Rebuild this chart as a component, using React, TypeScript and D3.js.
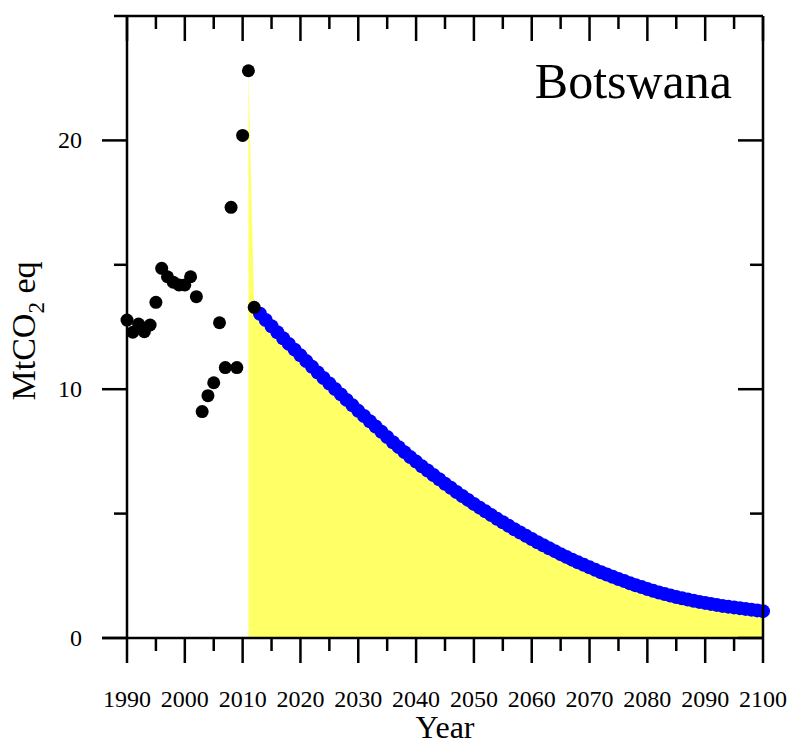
import { useEffect, useRef } from 'react';
import * as d3 from 'd3';

// historical emissions, 1990-2012
const histYears = d3.range(1990, 2013);
const histValues = [
  12.78, 12.29, 12.62, 12.31, 12.58, 13.49, 14.86, 14.52, 14.3, 14.19, 14.19,
  14.52, 13.72, 9.1, 9.74, 10.26, 12.67, 10.87, 17.31, 10.87, 20.2, 22.8, 13.29,
];

// projected pathway, 2013-2100
const projYears = d3.range(2013, 2101);
const projValues = [
  13.03, 12.78, 12.53, 12.29, 12.05, 11.82, 11.59, 11.36, 11.13, 10.9, 10.67,
  10.45, 10.23, 10.01, 9.79, 9.57, 9.35, 9.13, 8.92, 8.71, 8.5, 8.29, 8.08,
  7.87, 7.67, 7.47, 7.27, 7.09, 6.9, 6.73, 6.55, 6.38, 6.2, 6.04, 5.87, 5.71,
  5.55, 5.39, 5.24, 5.09, 4.94, 4.79, 4.65, 4.51, 4.37, 4.24, 4.11, 3.98, 3.85,
  3.73, 3.61, 3.49, 3.37, 3.26, 3.15, 3.04, 2.94, 2.84, 2.74, 2.64, 2.55, 2.46,
  2.37, 2.29, 2.2, 2.12, 2.05, 1.97, 1.9, 1.83, 1.77, 1.71, 1.65, 1.6, 1.55,
  1.5, 1.45, 1.41, 1.37, 1.33, 1.29, 1.26, 1.23, 1.2, 1.17, 1.14, 1.11, 1.08,
];

const xMajor = [1990, 2000, 2010, 2020, 2030, 2040, 2050, 2060, 2070, 2080, 2090, 2100];
const xMinor = [1995, 2005, 2015, 2025, 2035, 2045, 2055, 2065, 2075, 2085, 2095];
const yMajor = [0, 10, 20];
const yMinor = [5, 15];

const country = 'Botswana';

const App = () => {
  const svgRef = useRef(null);

  useEffect(() => {
    const svg = d3.select(svgRef.current);
    svg.selectAll('*').remove();

    const width = 788;
    const height = 745;
    const margin = { top: 16, right: 25, bottom: 107, left: 127 };
    const font = '"Liberation Serif", "Times New Roman", serif';

    const x = d3
      .scaleLinear()
      .domain([1990, 2100])
      .range([margin.left, width - margin.right]);
    const y = d3
      .scaleLinear()
      .domain([0, 25])
      .range([height - margin.bottom, margin.top]);

    const x0 = x(1990);
    const x1 = x(2100);
    const y0 = y(0);
    const y1 = y(25);

    // area under the pathway, starting from the last inventory year
    const areaData: [number, number][] = [
      [2011, histValues[histYears.indexOf(2011)]],
      [2012, histValues[histYears.indexOf(2012)]],
      ...projYears.map((yr, i) => [yr, projValues[i]] as [number, number]),
    ];
    const area = d3
      .area<[number, number]>()
      .x((d) => x(d[0]))
      .y0(y(0))
      .y1((d) => y(d[1]));
    svg.append('path').attr('d', area(areaData)!).attr('fill', '#ffff66');

    // projected points
    svg
      .selectAll('circle.proj')
      .data(projYears)
      .enter()
      .append('circle')
      .attr('class', 'proj')
      .attr('cx', (d) => x(d))
      .attr('cy', (_d, i) => y(projValues[i]))
      .attr('r', 7)
      .attr('fill', '#0000ff');

    // historical points
    svg
      .selectAll('circle.hist')
      .data(histYears)
      .enter()
      .append('circle')
      .attr('class', 'hist')
      .attr('cx', (d) => x(d))
      .attr('cy', (_d, i) => y(histValues[i]))
      .attr('r', 6.5)
      .attr('fill', '#000');

    // frame and ticks
    const g = svg.append('g').attr('stroke', '#000').attr('stroke-width', 2.5);
    g.append('line').attr('x1', 102).attr('x2', x1).attr('y1', y0).attr('y2', y0);
    g.append('line').attr('x1', 114).attr('x2', x1).attr('y1', y1).attr('y2', y1);
    g.append('line').attr('x1', x0).attr('x2', x0).attr('y1', y1).attr('y2', y0);
    g.append('line').attr('x1', x1).attr('x2', x1).attr('y1', y1).attr('y2', y0);

    const major = 25;
    const minor = 13;
    const addX = (vals: number[], len: number) => {
      vals.forEach((v) => {
        g.append('line').attr('x1', x(v)).attr('x2', x(v)).attr('y1', y0).attr('y2', y0 + len);
        g.append('line').attr('x1', x(v)).attr('x2', x(v)).attr('y1', y1).attr('y2', y1 + len);
      });
    };
    const addY = (vals: number[], len: number) => {
      vals.forEach((v) => {
        g.append('line').attr('x1', x0 - len).attr('x2', x0).attr('y1', y(v)).attr('y2', y(v));
        g.append('line').attr('x1', x1 - len).attr('x2', x1).attr('y1', y(v)).attr('y2', y(v));
      });
    };
    addX(xMajor, major);
    addX(xMinor, minor);
    addY(yMajor, major);
    addY(yMinor, minor);

    // tick labels
    svg
      .selectAll('text.xlab')
      .data(xMajor)
      .enter()
      .append('text')
      .attr('x', (d) => x(d))
      .attr('y', 707)
      .attr('text-anchor', 'middle')
      .style('font-family', font)
      .style('font-size', '24px')
      .text((d) => d);

    svg
      .selectAll('text.ylab')
      .data(yMajor)
      .enter()
      .append('text')
      .attr('x', 82)
      .attr('y', (d) => y(d) + 8)
      .attr('text-anchor', 'end')
      .style('font-family', font)
      .style('font-size', '24px')
      .text((d) => d);

    // axis titles
    svg
      .append('text')
      .attr('x', (x0 + x1) / 2)
      .attr('y', 738)
      .attr('text-anchor', 'middle')
      .style('font-family', font)
      .style('font-size', '32px')
      .text('Year');

    const yt = svg
      .append('text')
      .attr('transform', `translate(35,331) rotate(-90)`)
      .attr('text-anchor', 'middle')
      .style('font-family', font)
      .style('font-size', '34px');
    yt.append('tspan').text('MtCO');
    yt.append('tspan').attr('dy', 9).style('font-size', '23px').text('2');
    yt.append('tspan').attr('dy', -9).text(' eq');

    // country name
    svg
      .append('text')
      .attr('x', 732)
      .attr('y', 98)
      .attr('text-anchor', 'end')
      .style('font-family', font)
      .style('font-size', '50px')
      .text(country);
  }, []);

  return (
    <svg
      ref={svgRef}
      width={788}
      height={745}
      style={{ position: 'absolute', left: 0, top: 0, background: '#fff' }}
    ></svg>
  );
};

export default App;
